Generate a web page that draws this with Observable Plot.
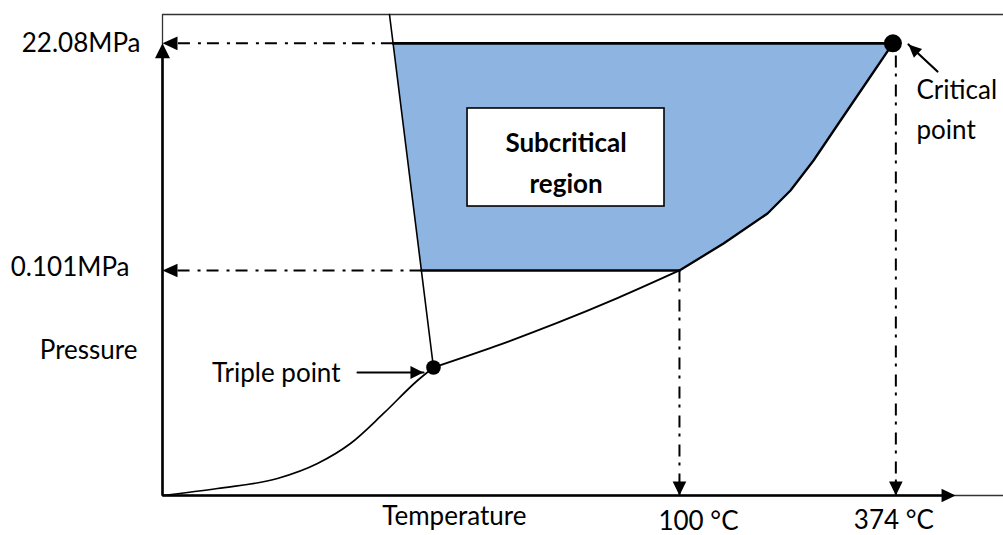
<!DOCTYPE html>
<html><head><meta charset="utf-8">
<script src="https://cdn.jsdelivr.net/npm/d3@7"></script>
<script src="https://cdn.jsdelivr.net/npm/@observablehq/plot@0.6"></script>
<style>
html,body{margin:0;padding:0;background:#fff;}
#chart svg{display:block;}
</style></head><body><div id="chart"></div>
<script>
// Schematic phase diagram in arbitrary units (0–100 along each axis)
const pressureLevels = [94.0, 46.78];            // critical pressure, atmospheric pressure
const pressureLabels = ["22.08MPa", "0.101MPa"];
const tempLevels = [61.47, 87.2];                // boiling point, critical temperature
const tempLabels = ["100 °C", "374 °C"];

const triplePoint = [32.22, 26.61];
const criticalPoint = [86.85, 94.0];

const meltingLine = [[26.99, 100], [32.22, 26.61]];
const sublimationCurve = [[0, 0], [6.54, 1.46], [13.67, 3.53], [18.43, 6.65], [22.35, 10.81], [26.28, 17.05], [30.32, 23.91], [32.22, 26.61]];
const vaporLower = [[32.22, 26.61], [39.53, 31.0], [46.85, 35.82], [54.16, 41.08], [61.47, 46.78]];
const vaporUpper = [[61.47, 46.78], [66.71, 52.39], [71.94, 58.63], [74.67, 63.41], [77.41, 69.65], [80.38, 77.34], [84.42, 87.73], [86.85, 94.0]];

// corners of the subcritical region where it meets the melting line
const regionTopLeft = [27.4, 94.0];
const regionBottomLeft = [30.8, 46.78];

const boxX = [36.27, 59.69], boxY = [60.08, 80.46];
const tripleArrow = [[23.19, 25.57], [31.03, 25.57]];
const criticalArrow = [[92.15, 88.15], [88.7, 93.76]];
const axisEnds = {x: 94.3, y: 94.0};

// filled triangular arrowhead, tip at the point, pointing along angle (screen degrees)
function head(angleDeg, L, Wd) {
  const a = angleDeg * Math.PI / 180, c = Math.cos(a), s = Math.sin(a);
  const pt = (x, y) => [x * c - y * s, x * s + y * c];
  return {draw(ctx) {
    const p1 = pt(-L, -Wd), p2 = pt(-L, Wd);
    ctx.moveTo(0, 0); ctx.lineTo(p1[0], p1[1]); ctx.lineTo(p2[0], p2[1]); ctx.closePath();
  }};
}

const regionPolygon = [regionTopLeft, criticalPoint, ...vaporUpper.slice(0, -1).reverse(), regionBottomLeft];
const dash = "12,6,3,8";
const font = "Lato, 'Open Sans', sans-serif";
const txt = {fill: "black", fontSize: 26, fontFamily: font};
const xy = {x: d => d[0], y: d => d[1]};

const chart = Plot.plot({
  width: 1003, height: 535,
  marginLeft: 162, marginRight: 0, marginTop: 14, marginBottom: 40,
  x: {domain: [0, 100], axis: null},
  y: {domain: [0, 100], axis: null},
  style: {fontFamily: font, background: "white", color: "black"},
  marks: [
    // frame
    Plot.ruleY([100], {x1: 0, x2: 100, stroke: "#333", strokeWidth: 1.3}),
    Plot.ruleY([0], {x1: 0, x2: 100, stroke: "#333", strokeWidth: 1.3}),
    Plot.ruleX([0], {y1: 0, y2: 100, stroke: "#333", strokeWidth: 1.3}),
    // subcritical region
    Plot.line(regionPolygon, {...xy, fill: "#8eb4e2", stroke: "none"}),
    Plot.line([regionTopLeft, criticalPoint], {...xy, stroke: "black", strokeWidth: 2.6}),
    Plot.line([regionBottomLeft, vaporUpper[0]], {...xy, stroke: "black", strokeWidth: 2.6}),
    // dash-dot guides
    Plot.line([regionTopLeft, [0, pressureLevels[0]]], {...xy, stroke: "black", strokeWidth: 2, strokeDasharray: dash, strokeLinecap: "butt"}),
    Plot.line([regionBottomLeft, [0, pressureLevels[1]]], {...xy, stroke: "black", strokeWidth: 2, strokeDasharray: dash, strokeLinecap: "butt"}),
    Plot.line([[tempLevels[0], pressureLevels[1]], [tempLevels[0], 0]], {...xy, stroke: "black", strokeWidth: 2, strokeDasharray: dash, strokeLinecap: "butt"}),
    Plot.line([[tempLevels[1], 91.5], [tempLevels[1], 0]], {...xy, stroke: "black", strokeWidth: 2, strokeDasharray: dash, strokeLinecap: "butt"}),
    // phase boundaries
    Plot.line(meltingLine, {...xy, stroke: "black", strokeWidth: 1.6}),
    Plot.line(sublimationCurve, {...xy, stroke: "black", strokeWidth: 1.7, curve: "monotone-x"}),
    Plot.line(vaporLower, {...xy, stroke: "black", strokeWidth: 1.9, curve: "monotone-x"}),
    Plot.line(vaporUpper, {...xy, stroke: "black", strokeWidth: 2.3}),
    // axes
    Plot.line([[0, 0], [0, axisEnds.y - 1]], {...xy, stroke: "black", strokeWidth: 2.6, strokeLinecap: "butt"}),
    Plot.line([[0, 0], [axisEnds.x - 0.5, 0]], {...xy, stroke: "black", strokeWidth: 2.6, strokeLinecap: "butt"}),
    Plot.dot([[0, axisEnds.y]], {...xy, symbol: head(-90, 15, 7.5), fill: "black", stroke: "none"}),
    Plot.dot([[axisEnds.x, 0]], {...xy, symbol: head(0, 14, 6.8), fill: "black", stroke: "none"}),
    Plot.dot(pressureLevels, {x: 0, y: d => d, symbol: head(180, 15, 6.8), fill: "black", stroke: "none"}),
    Plot.dot(tempLevels, {x: d => d, y: 0, symbol: head(90, 14, 6.8), fill: "black", stroke: "none"}),
    // points
    Plot.dot([criticalPoint], {...xy, r: 9, fill: "black", stroke: "none"}),
    Plot.dot([triplePoint], {...xy, r: 7.3, fill: "black", stroke: "none"}),
    // annotation arrows
    Plot.line(tripleArrow, {...xy, stroke: "black", strokeWidth: 2.2}),
    Plot.dot([tripleArrow[1]], {...xy, symbol: head(0, 13, 6.5), fill: "black", stroke: "none"}),
    Plot.line(criticalArrow, {...xy, stroke: "black", strokeWidth: 2.2}),
    Plot.dot([criticalArrow[1]], {...xy, symbol: head(-137, 13, 6), fill: "black", stroke: "none"}),
    // label box
    Plot.rect([0], {x1: boxX[0], x2: boxX[1], y1: boxY[0], y2: boxY[1], fill: "white", stroke: "black", strokeWidth: 1.6}),
    Plot.text(["Subcritical\nregion"], {x: (boxX[0] + boxX[1]) / 2, y: (boxY[0] + boxY[1]) / 2, ...txt, fontWeight: "bold", lineHeight: 1.58, lineAnchor: "middle", dy: 1.5}),
    // texts
    Plot.text([pressureLabels[0]], {x: 0, y: pressureLevels[0], ...txt, textAnchor: "end", lineAnchor: "middle", dx: -22}),
    Plot.text([pressureLabels[1]], {x: 0, y: pressureLevels[1], ...txt, textAnchor: "end", lineAnchor: "middle", dx: -33, dy: -3}),
    Plot.text(["Pressure"], {x: 0, y: 30.1, ...txt, textAnchor: "end", lineAnchor: "middle", dx: -25}),
    Plot.text(["Temperature"], {x: 34.7, y: 0, ...txt, textAnchor: "middle", lineAnchor: "middle", dy: 21.5}),
    Plot.text([tempLabels[0]], {x: tempLevels[0], y: 0, ...txt, textAnchor: "start", lineAnchor: "middle", dx: -21, dy: 26.5}),
    Plot.text([tempLabels[1]], {x: tempLevels[1], y: 0, ...txt, textAnchor: "start", lineAnchor: "middle", dx: -42, dy: 25}),
    Plot.text(["Triple point"], {x: tripleArrow[0][0], y: tripleArrow[0][1], ...txt, textAnchor: "end", lineAnchor: "middle", dx: -17, dy: 1}),
    Plot.text(["Critical\npoint"], {x: 89.66, y: 80.87, ...txt, textAnchor: "start", lineAnchor: "middle", lineHeight: 1.54})
  ]
});
document.getElementById("chart").appendChild(chart);
</script>
</body></html>
